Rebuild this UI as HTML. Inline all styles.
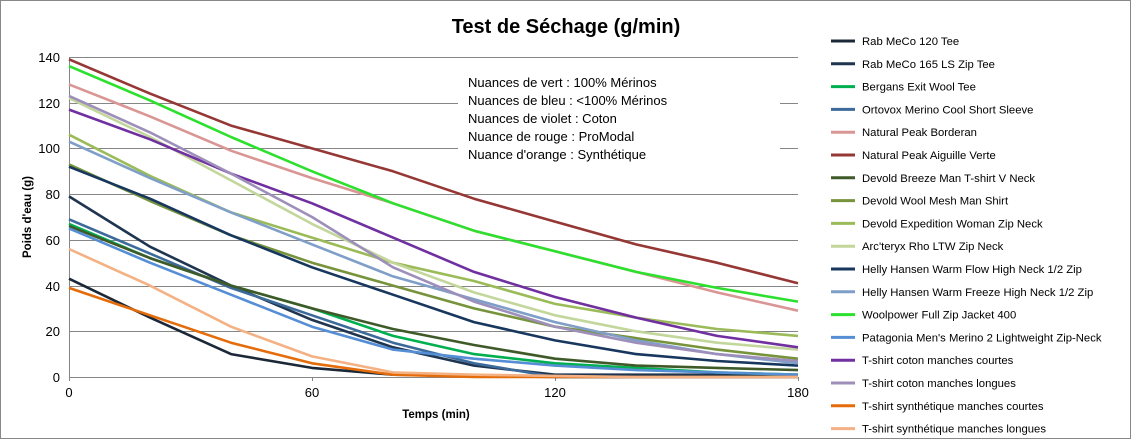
<!DOCTYPE html>
<html><head><meta charset="utf-8"><style>
body{margin:0;background:#fff;}
svg{display:block;font-family:"Liberation Sans",Arial,sans-serif;}
</style></head><body>
<svg width="1131" height="439" xmlns="http://www.w3.org/2000/svg">
<rect x="0.5" y="0.5" width="1130" height="438" fill="#fff" stroke="#888"/>
<text x="566" y="33" text-anchor="middle" font-size="20" font-weight="bold">Test de Séchage (g/min)</text>
<g stroke="#868686" stroke-width="1">
<line x1="69" y1="57.5" x2="798" y2="57.5"/>
<line x1="69" y1="103.5" x2="798" y2="103.5"/>
<line x1="69" y1="148.5" x2="798" y2="148.5"/>
<line x1="69" y1="194.5" x2="798" y2="194.5"/>
<line x1="69" y1="240.5" x2="798" y2="240.5"/>
<line x1="69" y1="286.5" x2="798" y2="286.5"/>
<line x1="69" y1="331.5" x2="798" y2="331.5"/>
<line x1="69" y1="377.5" x2="798" y2="377.5"/>
<line x1="69.5" y1="57" x2="69.5" y2="381"/>
<line x1="312.5" y1="377" x2="312.5" y2="381"/>
<line x1="555.5" y1="377" x2="555.5" y2="381"/>
<line x1="798.5" y1="377" x2="798.5" y2="381"/>
</g>
<rect x="458" y="68" width="322" height="100" fill="#fff"/>
<g font-size="13" fill="#000" text-anchor="end">
<text x="60" y="62">140</text><text x="60" y="108">120</text><text x="60" y="153">100</text>
<text x="60" y="199">80</text><text x="60" y="245">60</text><text x="60" y="291">40</text>
<text x="60" y="336">20</text><text x="60" y="382">0</text>
</g>
<g font-size="13" text-anchor="middle">
<text x="69" y="397">0</text><text x="312" y="397">60</text><text x="555" y="397">120</text><text x="798" y="397">180</text>
</g>
<text x="436" y="418" text-anchor="middle" font-size="11.5" font-weight="bold">Temps (min)</text>
<text transform="translate(31,217) rotate(-90)" text-anchor="middle" font-size="11.5" font-weight="bold">Poids d'eau (g)</text>
<g font-size="13">
<text x="468" y="87">Nuances de vert : 100%  Mérinos</text>
<text x="468" y="105">Nuances de bleu : &lt;100%  Mérinos</text>
<text x="468" y="123">Nuances de violet : Coton</text>
<text x="468" y="141">Nuance de rouge : ProModal</text>
<text x="468" y="159">Nuance d'orange : Synthétique</text>
</g>
<g fill="none" stroke-width="2.6" stroke-linejoin="round" id="lines"></g>
<g id="legend" font-size="11.3"></g>
<script>
var S=[
["Rab MeCo 120 Tee","#1c2838",[43,26,10,4,1,0.5,0,0,0,0]],
["Rab MeCo 165 LS Zip Tee","#1f3550",[79,57,40,25,13,5,1,1,1,1]],
["Bergans Exit Wool Tee","#00b050",[67,52,40,30,18,10,6,4,2,1]],
["Ortovox Merino Cool Short Sleeve","#3c6a9a",[69,54,39,27,15,6,0,0,0,0]],
["Natural Peak Borderan","#d99694",[128,114,99,87,76,64,55,46,37,29]],
["Natural Peak Aiguille Verte","#953735",[139,124,110,100,90,78,68,58,50,41]],
["Devold Breeze Man T-shirt V Neck","#3f5a28",[66,52,40,30,21,14,8,5,4,3]],
["Devold Wool Mesh Man Shirt","#77933c",[93,77,62,50,40,30,22,17,12,8]],
["Devold Expedition Woman Zip Neck","#9bbb59",[106,88,72,61,50,42,32,26,21,18]],
["Arc'teryx Rho LTW Zip Neck","#c3d69b",[122,105,86,67,50,37,27,20,15,12]],
["Helly Hansen Warm Flow High Neck 1/2 Zip","#17375e",[92,78,62,48,36,24,16,10,7,5]],
["Helly Hansen Warm Freeze High Neck 1/2 Zip","#7f9fc8",[103,87,72,58,44,34,24,16,10,6]],
["Woolpower Full Zip Jacket 400","#2ee02e",[136,121,105,90,76,64,55,46,39,33]],
["Patagonia Men's Merino 2 Lightweight Zip-Neck","#558ed5",[65,50,36,22,12,8,5,3,2,1]],
["T-shirt coton manches courtes","#7030a0",[117,104,89,76,61,46,35,26,18,13]],
["T-shirt coton manches longues","#9d8fba",[123,107,89,70,48,33,22,15,10,7]],
["T-shirt synthétique manches courtes","#e46c0a",[39,27,15,6,1,0,0,0,0,0]],
["T-shirt synthétique manches longues","#f4b183",[56,40,22,9,2,1,0.5,0,0,0]]
];
var ns="http://www.w3.org/2000/svg",L=document.getElementById("lines"),G=document.getElementById("legend");
S.forEach(function(s,i){
 var p=s[2].map(function(v,k){return (69+k*81).toFixed(1)+","+(377-v*2.2857).toFixed(1)}).join(" ");
 var e=document.createElementNS(ns,"polyline");e.setAttribute("points",p);e.setAttribute("stroke",s[1]);L.appendChild(e);
 var y=41+i*22.8;
 var l=document.createElementNS(ns,"line");l.setAttribute("x1",831);l.setAttribute("x2",855);l.setAttribute("y1",y);l.setAttribute("y2",y);l.setAttribute("stroke",s[1]);l.setAttribute("stroke-width",3);G.appendChild(l);
 var t=document.createElementNS(ns,"text");t.setAttribute("x",862);t.setAttribute("y",y+4);t.textContent=s[0];G.appendChild(t);
});
</script>
</svg>
</body></html>
